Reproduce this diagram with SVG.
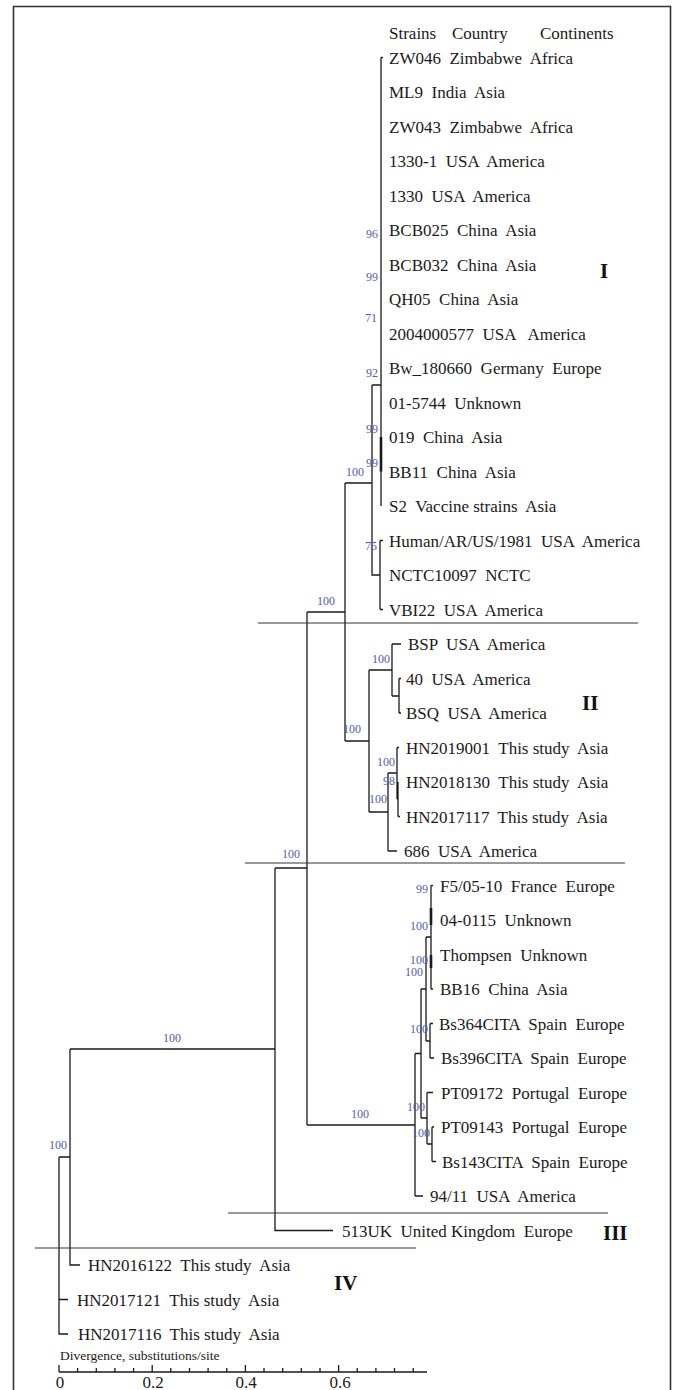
<svg xmlns="http://www.w3.org/2000/svg" width="675" height="1390" viewBox="0 0 675 1390" xml:space="preserve">
<style>
.frame{fill:none;stroke:#333;stroke-width:1.6}
.br{fill:none;stroke:#1a1a1a;stroke-width:1.3}
.thick{fill:none;stroke:#1a1a1a;stroke-width:2.6}
.div{fill:none;stroke:#333;stroke-width:1.2}
.lf{font-family:"Liberation Serif","Times New Roman",serif;font-size:17px;fill:#1a1a1a;white-space:pre}
.bs{font-family:"Liberation Serif","Times New Roman",serif;font-size:12px;fill:#4f5bb5;text-anchor:end}
.bsc{font-family:"Liberation Serif","Times New Roman",serif;font-size:12px;fill:#4f5bb5;text-anchor:middle}
.rn{font-family:"Liberation Serif","Times New Roman",serif;font-size:21px;font-weight:bold;fill:#111}
.ax{font-family:"Liberation Serif","Times New Roman",serif;font-size:17px;fill:#1a1a1a;text-anchor:middle}
.axt{font-family:"Liberation Serif","Times New Roman",serif;font-size:13.5px;fill:#1a1a1a}
</style>
<rect width="675" height="1390" fill="#fff"/>
<path class="frame" d="M13.5,1395 V6.5 H670.5 V1395"/>

<g id="header">
<text class="lf" x="389" y="39">Strains</text>
<text class="lf" x="452" y="39">Country</text>
<text class="lf" x="540" y="39">Continents</text>
</g>

<g id="connectors">
<!-- clade I -->
<path class="br" d="M381,57.5 V506 M383,57.5 H381 M372,385 H381 M372,385 V575 H380 M380,540.5 V609.5 M380,540.5 H383 M380,609.5 H383"/>
<path class="thick" d="M381,437 V471.5"/>
<path class="br" d="M345,483 H372 M345,483 V741 M307,612 H345"/>
<!-- clade II -->
<path class="br" d="M345,741 H369 M369,670 V812 M369,670 H392 M392,644 V696 M392,644 H401 M392,696 H399 M399,678.5 V713 M399,678.5 H401 M399,713 H401"/>
<path class="br" d="M369,812 H388 M388,773 V851 M388,851 H397 M388,773 H397 M397,747.5 V799 M397,747.5 H399 M397,799 H398 M398,782 V816.5 M398,816.5 H400"/>
<!-- clade III -->
<path class="br" d="M307,612 V1125 M307,1125 H415 M415,1053.5 V1196 M415,1196 H423 M415,1053.5 H421 M421,989 V1118 M421,989 H426 M426,937 V1041 M426,937 H431 M431,885.5 V989 M431,885.5 H433 M431,989 H433"/>
<path class="thick" d="M431,908 V925 M431,955 V968"/>
<path class="br" d="M426,1041 H430 M430,1023.5 V1058 M430,1023.5 H433 M430,1058 H434 M421,1118 H427 M427,1092.5 V1144 M427,1092.5 H433 M427,1144 H432 M432,1127 V1161.5 M432,1127 H434 M432,1161.5 H436"/>
<!-- deep nodes -->
<path class="br" d="M275,868 H307 M275,868 V1230.5 H333 M70,1049 H275 M70,1049 V1265 H80 M59,1157 H70 M59,1157 V1334 H68 M59,1299.5 H68"/>
</g>

<g id="dividers">
<path class="div" d="M258,623 H638 M245,863 H625 M228,1213 H608 M35,1248 H416"/>
</g>

<g id="bootstrap">
<text class="bs" x="378" y="238">96</text>
<text class="bs" x="378" y="281">99</text>
<text class="bs" x="377" y="322">71</text>
<text class="bs" x="378" y="377">92</text>
<text class="bs" x="378" y="433">99</text>
<text class="bs" x="378" y="467">99</text>
<text class="bs" x="364" y="476">100</text>
<text class="bs" x="377" y="550">75</text>
<text class="bsc" x="326" y="605">100</text>
<text class="bs" x="390" y="663">100</text>
<text class="bs" x="361" y="733">100</text>
<text class="bs" x="395" y="766">100</text>
<text class="bs" x="395" y="785">98</text>
<text class="bs" x="387" y="803">100</text>
<text class="bsc" x="291" y="858">100</text>
<text class="bs" x="428" y="893">99</text>
<text class="bs" x="428" y="930">100</text>
<text class="bs" x="428" y="964">100</text>
<text class="bs" x="423" y="976">100</text>
<text class="bs" x="428" y="1033">100</text>
<text class="bs" x="425" y="1111">100</text>
<text class="bs" x="430" y="1137">100</text>
<text class="bsc" x="172" y="1042">100</text>
<text class="bsc" x="360" y="1118">100</text>
<text class="bsc" x="58" y="1149">100</text>
</g>

<g id="leaves">
<g id="n-ZW046"><text class="lf" x="389" y="63.5">ZW046  Zimbabwe  Africa</text></g>
<g id="n-ML9"><text class="lf" x="389" y="98">ML9  India  Asia</text></g>
<g id="n-ZW043"><text class="lf" x="389" y="132.5">ZW043  Zimbabwe  Africa</text></g>
<g id="n-1330-1"><text class="lf" x="389" y="167">1330-1  USA  America</text></g>
<g id="n-1330"><text class="lf" x="389" y="201.5">1330  USA  America</text></g>
<g id="n-BCB025"><text class="lf" x="389" y="236">BCB025  China  Asia</text></g>
<g id="n-BCB032"><text class="lf" x="389" y="270.5">BCB032  China  Asia</text></g>
<g id="n-QH05"><text class="lf" x="389" y="305">QH05  China  Asia</text></g>
<g id="n-2004000577"><text class="lf" x="389" y="339.5">2004000577  USA   America</text></g>
<g id="n-Bw_180660"><text class="lf" x="389" y="374">Bw_180660  Germany  Europe</text></g>
<g id="n-01-5744"><text class="lf" x="389" y="408.5">01-5744  Unknown</text></g>
<g id="n-019"><text class="lf" x="389" y="443">019  China  Asia</text></g>
<g id="n-BB11"><text class="lf" x="389" y="477.5">BB11  China  Asia</text></g>
<g id="n-S2"><text class="lf" x="389" y="512">S2  Vaccine strains  Asia</text></g>
<g id="n-Human"><text class="lf" x="389" y="546.5">Human/AR/US/1981  USA  America</text></g>
<g id="n-NCTC10097"><text class="lf" x="389" y="581">NCTC10097  NCTC</text></g>
<g id="n-VBI22"><text class="lf" x="389" y="615.5">VBI22  USA  America</text></g>
<g id="n-BSP"><text class="lf" x="408" y="650">BSP  USA  America</text></g>
<g id="n-40"><text class="lf" x="406" y="684.5">40  USA  America</text></g>
<g id="n-BSQ"><text class="lf" x="406" y="719">BSQ  USA  America</text></g>
<g id="n-HN2019001"><text class="lf" x="406" y="753.5">HN2019001  This study  Asia</text></g>
<g id="n-HN2018130"><text class="lf" x="406" y="788">HN2018130  This study  Asia</text></g>
<g id="n-HN2017117"><text class="lf" x="406" y="822.5">HN2017117  This study  Asia</text></g>
<g id="n-686"><text class="lf" x="404" y="857">686  USA  America</text></g>
<g id="n-F5"><text class="lf" x="440" y="891.5">F5/05-10  France  Europe</text></g>
<g id="n-04-0115"><text class="lf" x="440" y="926">04-0115  Unknown</text></g>
<g id="n-Thompsen"><text class="lf" x="440" y="960.5">Thompsen  Unknown</text></g>
<g id="n-BB16"><text class="lf" x="440" y="995">BB16  China  Asia</text></g>
<g id="n-Bs364CITA"><text class="lf" x="439" y="1029.5">Bs364CITA  Spain  Europe</text></g>
<g id="n-Bs396CITA"><text class="lf" x="441" y="1064">Bs396CITA  Spain  Europe</text></g>
<g id="n-PT09172"><text class="lf" x="441" y="1098.5">PT09172  Portugal  Europe</text></g>
<g id="n-PT09143"><text class="lf" x="441" y="1133">PT09143  Portugal  Europe</text></g>
<g id="n-Bs143CITA"><text class="lf" x="442" y="1167.5">Bs143CITA  Spain  Europe</text></g>
<g id="n-94-11"><text class="lf" x="430" y="1202">94/11  USA  America</text></g>
<g id="n-513UK"><text class="lf" x="342" y="1236.5">513UK  United Kingdom  Europe</text></g>
<g id="n-HN2016122"><text class="lf" x="88" y="1271">HN2016122  This study  Asia</text></g>
<g id="n-HN2017121"><text class="lf" x="77" y="1305.5">HN2017121  This study  Asia</text></g>
<g id="n-HN2017116"><text class="lf" x="78" y="1340">HN2017116  This study  Asia</text></g>
</g>

<g id="clade-labels">
<text class="rn" x="600" y="278">I</text>
<text class="rn" x="582" y="710">II</text>
<text class="rn" x="603" y="1240">III</text>
<text class="rn" x="334" y="1290">IV</text>
</g>

<g id="axis">
<text class="axt" x="60" y="1360">Divergence, substitutions/site</text>
<path class="br" d="M59,1372 H427 M59,1372 V1365 M152.2,1372 V1365 M245.4,1372 V1365 M338.6,1372 V1365 M77.6,1372 v-4 M96.3,1372 v-4 M114.9,1372 v-4 M133.6,1372 v-4 M170.8,1372 v-4 M189.5,1372 v-4 M208.1,1372 v-4 M226.8,1372 v-4 M264,1372 v-4 M282.7,1372 v-4 M301.3,1372 v-4 M320,1372 v-4 M357.2,1372 v-4 M375.9,1372 v-4 M394.5,1372 v-4 M413.2,1372 v-4"/>
<text class="ax" x="60" y="1388">0</text>
<text class="ax" x="153" y="1388">0.2</text>
<text class="ax" x="246" y="1388">0.4</text>
<text class="ax" x="340" y="1388">0.6</text>
</g>
</svg>
